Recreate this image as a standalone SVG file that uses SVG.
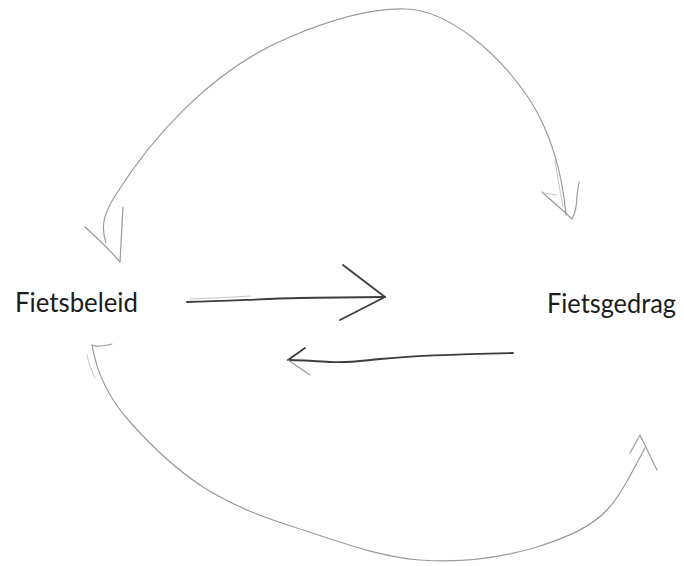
<svg xmlns="http://www.w3.org/2000/svg" width="684" height="566" viewBox="0 0 684 566">
  <style>
    .label { font-family: Lato, "Open Sans", "Liberation Sans", sans-serif; font-size: 26px; fill: #1c1c1c; }
    .pen { fill: none; stroke-linecap: round; stroke-linejoin: round; }
    .dark { stroke: #3c3c3c; stroke-width: 1.8; }
    .light { stroke: #9a9a9a; stroke-width: 1.2; }
    .faint { stroke: #c4c4c4; stroke-width: 1; }
  </style>
  <rect width="684" height="566" fill="#ffffff"/>

  <g id="fietsbeleid">
    <text class="label" x="15" y="312" textLength="123" lengthAdjust="spacingAndGlyphs">Fietsbeleid</text>
  </g>

  <g id="fietsgedrag">
    <text class="label" x="547" y="313" textLength="129" lengthAdjust="spacingAndGlyphs">Fietsgedrag</text>
  </g>

  <g id="connectors" class="pen">
    <!-- beleid to gedrag, straight -->
    <path class="dark" d="M187,302 C230,301 260,299 300,298 C330,297.5 360,297 385,297"/>
    <path class="faint" d="M190,299 C215,298 235,297 250,296"/>
    <path class="dark" d="M343,265 L385,297 L340,320"/>

    <!-- gedrag to beleid, straight -->
    <path class="dark" d="M513,353 C460,354 410,356 380,359 C360,361 350,363 330,362 C315,361 300,360 288,360"/>
    <path class="dark" d="M305,348 L288,360"/>
    <path class="light" d="M288,360 L310,375"/>

    <!-- upper loop -->
    <path class="light" d="M106,243 C100,225 105,212 115,196 C150,140 210,70 290,37 C330,20 370,8 405,9 C450,10 500,55 530,100 C550,132 562,170 566,215"/>
    <path class="faint" d="M555,160 C558,180 561,195 563,207"/>
    <path class="light" d="M85,227 C95,236 110,250 120,262 L123,207"/>
    <path class="light" d="M542,192 C552,201 565,212 572,219 C576,212 577,205 577,195 L579,182"/>
    <path class="faint" d="M543,193 L556,195"/>

    <!-- lower loop -->
    <path class="light" d="M112,344 C104,346 96,347 92,345 C97,375 112,402 130,422 C155,450 180,472 203,487 C235,507 265,518 297,528 C340,542 380,557 420,560 C460,563 500,558 537,547 C565,538 590,528 607,510 C622,494 634,468 645,448"/>
    <path class="faint" d="M87,355 C89,364 92,372 95,378"/>
    <path class="light" d="M630,453 L640,435 L657,470"/>
  </g>
</svg>
